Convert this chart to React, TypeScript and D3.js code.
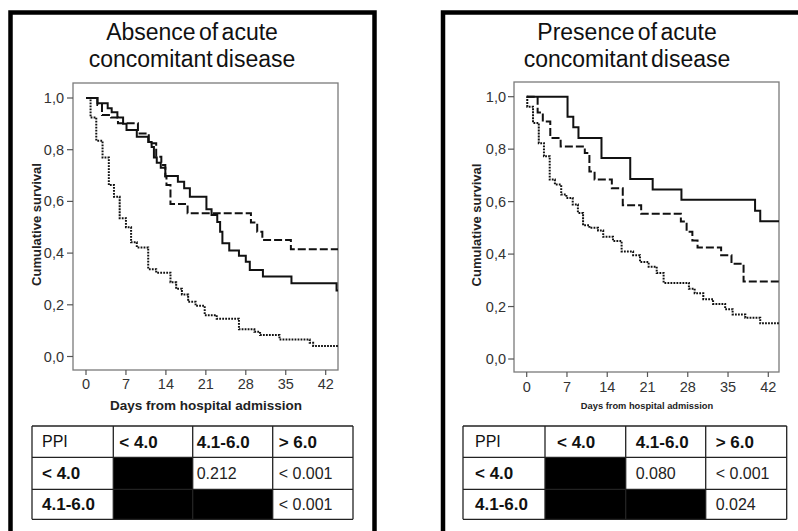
import React, { useEffect } from "react";
import * as d3 from "d3";

// ---------- data ----------
const dayTicks = [0, 7, 14, 21, 28, 35, 42];
const survivalTicks = [0, 0.2, 0.4, 0.6, 0.8, 1.0];

// Absence of acute concomitant disease
const absLowDays = [0, 2.0, 3.8, 4.5, 5.5, 6.5, 7.1, 8.9, 10.9, 11.5, 11.9, 12.4, 13.1, 13.9, 16.1, 17.2, 18.2, 21.1, 22.0, 23.0, 23.5, 23.9, 25.1, 26.8, 28.0, 28.7, 31.0, 36.0, 43.9, 44.2];
const absLowSurv = [1.0, 0.98, 0.96, 0.945, 0.925, 0.9, 0.876, 0.85, 0.83, 0.81, 0.77, 0.75, 0.73, 0.698, 0.676, 0.651, 0.618, 0.57, 0.547, 0.52, 0.483, 0.438, 0.41, 0.39, 0.367, 0.335, 0.309, 0.283, 0.255, 0.255];
const absMidDays = [0, 2.0, 2.8, 4.4, 5.6, 9.1, 11.0, 12.3, 13.2, 13.9, 14.1, 14.8, 17.8, 28.9, 30.0, 30.9, 35.9, 44.2];
const absMidSurv = [1.0, 0.973, 0.934, 0.925, 0.902, 0.863, 0.825, 0.773, 0.741, 0.696, 0.663, 0.59, 0.554, 0.518, 0.483, 0.451, 0.415, 0.415];
const absHighDays = [0, 0.8, 1.8, 2.9, 4.0, 4.9, 5.9, 7.0, 7.9, 8.9, 10.9, 12.3, 14.8, 15.8, 16.8, 17.9, 19.2, 20.8, 22.9, 26.8, 29.5, 30.5, 33.9, 39.2, 39.8, 44.2];
const absHighSurv = [1.0, 0.925, 0.835, 0.77, 0.663, 0.618, 0.535, 0.5, 0.442, 0.422, 0.338, 0.324, 0.287, 0.262, 0.24, 0.212, 0.196, 0.16, 0.146, 0.105, 0.096, 0.083, 0.066, 0.053, 0.041, 0.041];

// Presence of acute concomitant disease
const preLowDays = [0, 7.1, 8.1, 9.0, 13.0, 18.0, 21.9, 26.9, 39.7, 40.6, 44];
const preLowSurv = [1.0, 0.924, 0.884, 0.843, 0.766, 0.686, 0.646, 0.607, 0.565, 0.525, 0.525];
const preMidDays = [0, 1.9, 2.8, 4.1, 5.9, 10.1, 10.9, 11.8, 14.8, 16.7, 19.9, 26.8, 27.8, 28.8, 29.7, 33.8, 35.6, 37.7, 44];
const preMidSurv = [1.0, 0.94, 0.905, 0.843, 0.81, 0.785, 0.715, 0.684, 0.651, 0.586, 0.554, 0.524, 0.485, 0.452, 0.425, 0.396, 0.363, 0.295, 0.295];
const preHighDays = [0, 0.1, 1.1, 2.1, 3.0, 4.0, 4.9, 6.0, 6.9, 8.0, 8.9, 9.8, 10.9, 12.4, 13.3, 15.0, 16.5, 18.5, 19.7, 21.2, 22.6, 23.8, 28.2, 29.2, 30.7, 32.4, 34.5, 35.8, 38.0, 40.6, 44];
const preHighSurv = [1.0, 0.962, 0.9, 0.823, 0.773, 0.684, 0.665, 0.627, 0.614, 0.589, 0.557, 0.51, 0.5, 0.49, 0.466, 0.45, 0.41, 0.396, 0.37, 0.352, 0.328, 0.29, 0.268, 0.251, 0.228, 0.21, 0.19, 0.17, 0.157, 0.136, 0.136];

const tableHeader = ["PPI", "< 4.0", "4.1-6.0", "> 6.0"];
const rowLabels = ["< 4.0", "4.1-6.0"];
const absPValues = [[null, "0.212", "< 0.001"], [null, null, "< 0.001"]];
const prePValues = [[null, "0.080", "< 0.001"], [null, null, "0.024"]];

const absTitle = ["Absence of acute", "concomitant disease"];
const preTitle = ["Presence of acute", "concomitant disease"];
const yAxisLabel = "Cumulative survival";
const xAxisLabel = "Days from hospital admission";

// ---------- helpers ----------
const FONT = "'Liberation Sans', Arial, Helvetica, sans-serif";
const commaFmt = d3.formatLocale({ decimal: ",", thousands: ".", grouping: [3], currency: ["", ""] }).format(".1f");

const lineStyles = [
  { dash: null, width: 2 },
  { dash: "8,3", width: 2 },
  { dash: "1.8,1.2", width: 2 },
];

type Layout = {
  border: { x: number; y: number; w: number; h: number };
  titleX: number;
  frame: { l: number; r: number; t: number; b: number };
  x0: number; x42: number; y0: number; y1: number;
  yLabelX: number;
  xLabelX: number; xLabelY: number; xLabelSize: number;
  xTickY: number; yTickEnd: number;
  cols: number[]; rows: number[]; pads: number[];
};

function Panel({ title, layout, series, pvals }: { title: string[]; layout: Layout; series: [number[], number[]][]; pvals: (string | null)[][] }) {
  const L = layout;
  const x = d3.scaleLinear().domain([0, 42]).range([L.x0, L.x42]);
  const y = d3.scaleLinear().domain([0, 1]).range([L.y0, L.y1]);
  const line = d3
    .line<[number, number]>()
    .x((d) => Math.min(x(d[0]), L.frame.r))
    .y((d) => y(d[1]))
    .curve(d3.curveStepAfter);

  const cols = L.cols;
  const rows = L.rows;
  return (
    <g>
      <rect x={L.border.x} y={L.border.y} width={L.border.w} height={L.border.h} fill="#fff" stroke="#000" strokeWidth={4.5} />
      <text x={L.titleX} y={40} textAnchor="middle" fontFamily={FONT} fontSize={23} fill="#111" wordSpacing={-3}>{title[0]}</text>
      <text x={L.titleX} y={67} textAnchor="middle" fontFamily={FONT} fontSize={23} fill="#111" wordSpacing={-3}>{title[1]}</text>

      {/* plot frame */}
      <rect x={L.frame.l} y={L.frame.t} width={L.frame.r - L.frame.l} height={L.frame.b - L.frame.t} fill="#fff" stroke="#7a7a7a" strokeWidth={1.3} />

      {/* y axis */}
      {survivalTicks.map((t) => (
        <g key={"y" + t}>
          <line x1={L.frame.l - 6} x2={L.frame.l} y1={y(t)} y2={y(t)} stroke="#555" strokeWidth={1.2} />
          <text x={L.yTickEnd} y={y(t)} dy="0.35em" textAnchor="end" fontFamily={FONT} fontSize={14.5} fill="#333">{commaFmt(t)}</text>
        </g>
      ))}
      {/* x axis */}
      {dayTicks.map((t) => (
        <g key={"x" + t}>
          <line x1={x(t)} x2={x(t)} y1={L.frame.b} y2={L.frame.b + 5} stroke="#555" strokeWidth={1.2} />
          <text x={x(t)} y={L.xTickY} textAnchor="middle" fontFamily={FONT} fontSize={14.5} fill="#333">{t}</text>
        </g>
      ))}
      <text transform={`translate(${L.yLabelX},${(L.frame.t + L.frame.b) / 2 - 2}) rotate(-90)`} dy="0.35em" textAnchor="middle" fontFamily={FONT} fontWeight="bold" fontSize={13} fill="#222">{yAxisLabel}</text>
      <text x={L.xLabelX} y={L.xLabelY} textAnchor="middle" fontFamily={FONT} fontWeight="bold" fontSize={L.xLabelSize} fill="#222">{xAxisLabel}</text>

      {/* curves */}
      {series.map(([days, surv], i) => (
        <path
          key={"s" + i}
          d={line(days.map((d, j) => [d, surv[j]] as [number, number])) || ""}
          fill="none"
          stroke="#111"
          strokeWidth={lineStyles[i].width}
          strokeDasharray={lineStyles[i].dash || undefined}
        />
      ))}

      {/* table */}
      {pvals.map((row, ri) =>
        row.map((v, ci) =>
          v === null ? (
            <rect key={`b${ri}${ci}`} x={cols[ci + 1]} y={rows[ri + 1]} width={cols[ci + 2] - cols[ci + 1]} height={rows[ri + 2] - rows[ri + 1]} fill="#000" />
          ) : null
        )
      )}
      {rows.map((r, i) => (
        <line key={"hr" + i} x1={cols[0]} x2={cols[cols.length - 1]} y1={r} y2={r} stroke="#222" strokeWidth={1.3} />
      ))}
      {cols.map((c, i) => (
        <line key={"vc" + i} x1={c} x2={c} y1={rows[0]} y2={rows[rows.length - 1]} stroke="#222" strokeWidth={1.3} />
      ))}
      {tableHeader.map((h, i) => (
        <text key={"h" + i} x={cols[i] + L.pads[i]} y={(rows[0] + rows[1]) / 2} dy="0.36em" fontFamily={FONT} fontSize={i === 0 ? 16 : 17} fontWeight={i === 0 ? "normal" : "bold"} fill="#111">{h}</text>
      ))}
      {rowLabels.map((h, ri) => (
        <text key={"r" + ri} x={cols[0] + L.pads[0]} y={(rows[ri + 1] + rows[ri + 2]) / 2} dy="0.36em" fontFamily={FONT} fontSize={17} fontWeight="bold" fill="#111">{h}</text>
      ))}
      {pvals.map((row, ri) =>
        row.map((v, ci) =>
          v !== null ? (
            <text key={`p${ri}${ci}`} x={cols[ci + 1] + L.pads[ci + 1]} y={(rows[ri + 1] + rows[ri + 2]) / 2} dy="0.36em" fontFamily={FONT} fontSize={16} fill="#222">{v}</text>
          ) : null
        )
      )}
    </g>
  );
}

const leftLayout: Layout = {
  border: { x: 10.5, y: 12.5, w: 364, h: 600 },
  titleX: 192,
  frame: { l: 73, r: 338, t: 83, b: 370 },
  x0: 86, x42: 325.7, y0: 356.5, y1: 98,
  yLabelX: 36,
  xLabelX: 206, xLabelY: 410, xLabelSize: 13.5,
  xTickY: 389, yTickEnd: 64,
  cols: [32, 113.3, 192.7, 272.7, 353],
  rows: [426, 457.3, 489.3, 519.3],
  pads: [10, 6, 4, 6],
};

const rightLayout: Layout = {
  border: { x: 443, y: 12.5, w: 500, h: 600 },
  titleX: 627,
  frame: { l: 514, r: 779, t: 82, b: 372 },
  x0: 526.7, x42: 768.3, y0: 359, y1: 96.7,
  yLabelX: 476,
  xLabelX: 647, xLabelY: 409, xLabelSize: 9.3,
  xTickY: 391.5, yTickEnd: 506,
  cols: [463, 545, 625.7, 705.7, 786.7],
  rows: [426, 457.3, 489.3, 519.3],
  pads: [12, 12, 10, 10],
};

export default function App() {
  useEffect(() => {
    document.body.style.margin = "0";
  }, []);
  return (
    <svg width={798} height={531} style={{ position: "absolute", left: 0, top: 0, background: "#fff" }}>
      <rect x={0} y={0} width={798} height={531} fill="#fff" />
      <Panel
        title={absTitle}
        layout={leftLayout}
        series={[[absLowDays, absLowSurv], [absMidDays, absMidSurv], [absHighDays, absHighSurv]]}
        pvals={absPValues}
      />
      <Panel
        title={preTitle}
        layout={rightLayout}
        series={[[preLowDays, preLowSurv], [preMidDays, preMidSurv], [preHighDays, preHighSurv]]}
        pvals={prePValues}
      />
    </svg>
  );
}
